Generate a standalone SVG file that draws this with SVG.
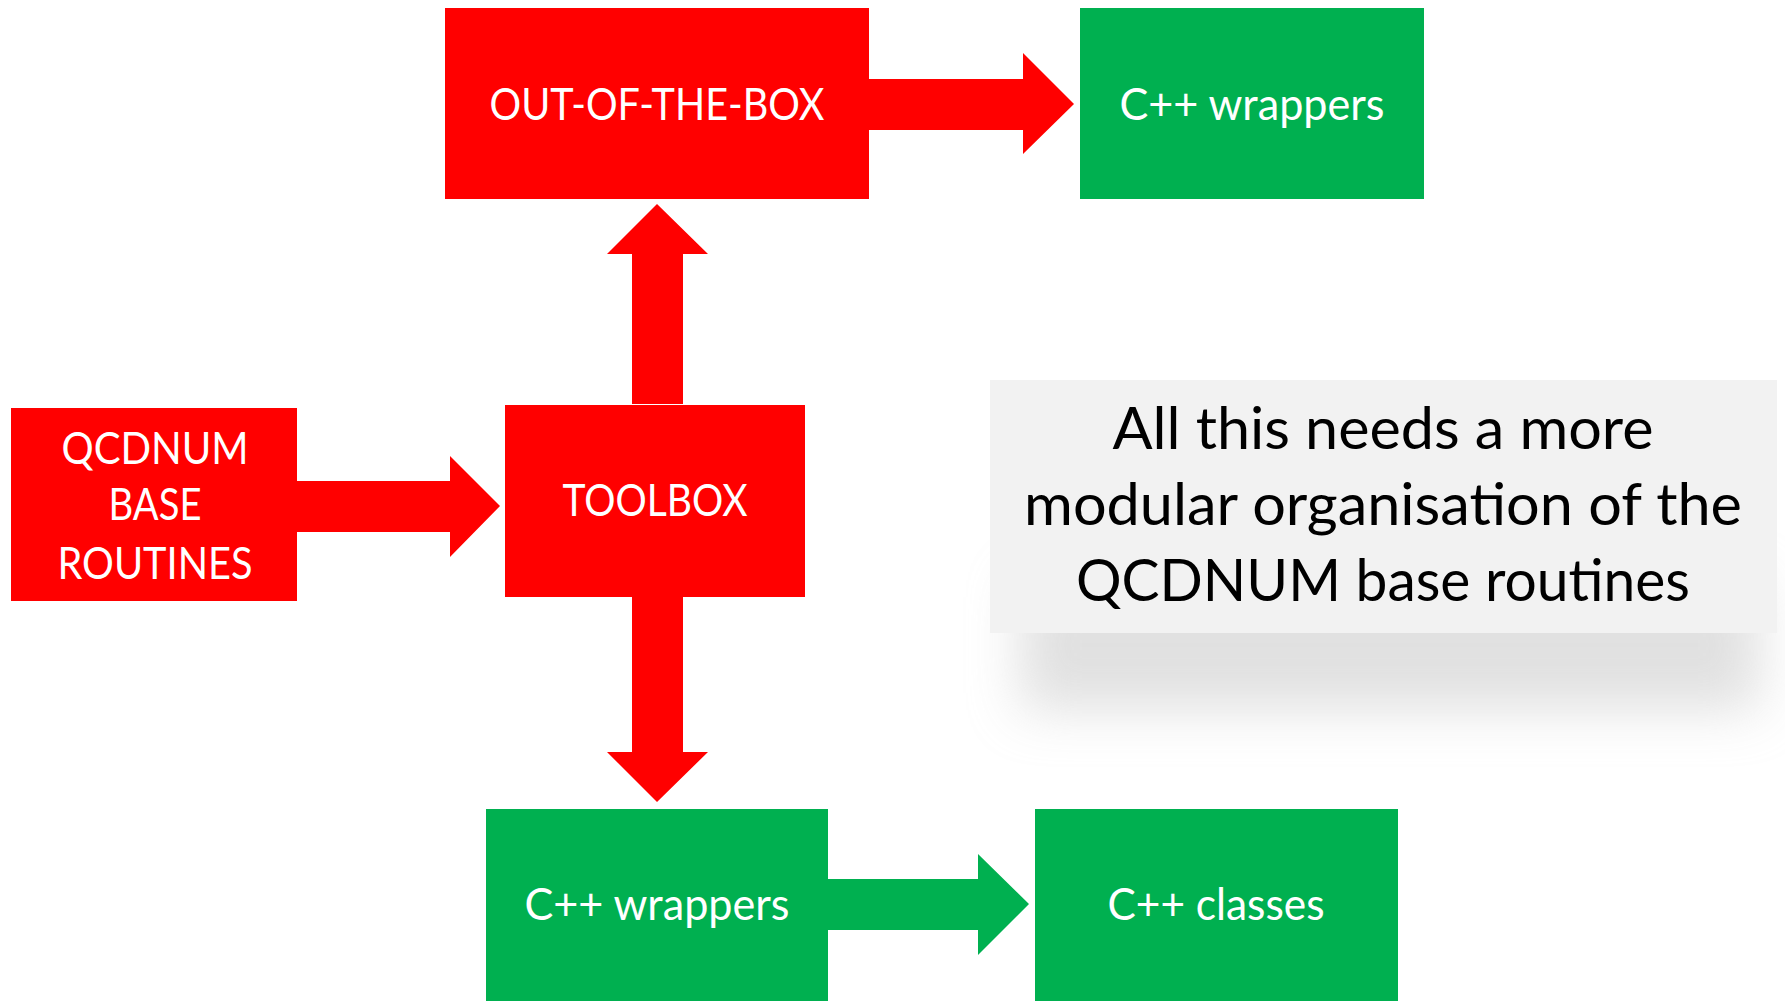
<svg xmlns="http://www.w3.org/2000/svg" width="1785" height="1001" viewBox="0 0 1785 1001">
<style>
.red{fill:#FF0000}
.green{fill:#00B050}
.lbl{font-family:Lato,"Open Sans","Liberation Sans",sans-serif;font-size:44px;fill:#FFFFFF;text-anchor:middle}
.note{font-family:Lato,"Open Sans","Liberation Sans",sans-serif;font-size:58px;fill:#000000;text-anchor:middle}
</style>
<defs>
<filter id="blur" x="-20%" y="-50%" width="140%" height="200%">
<feGaussianBlur stdDeviation="26"/>
</filter>
</defs>
<rect width="1785" height="1001" fill="#FFFFFF"/>

<g id="connectors">
<polygon class="red" points="869,79 1023,79 1023,53 1074,104 1023,154 1023,130 869,130"/>
<polygon class="red" points="632,404 632,254 607,254 657,204 708,254 683,254 683,404"/>
<polygon class="red" points="632,597 632,752 607,752 657,802 708,752 683,752 683,597"/>
<polygon class="red" points="297,481 450,481 450,456 500,506 450,557 450,532 297,532"/>
<polygon class="green" points="828,879 978,879 978,854 1029,904 978,955 978,930 828,930"/>
</g>

<g id="node-outofthebox">
<rect class="red" x="445" y="8" width="424" height="191"/>
<text class="lbl" x="657" y="120" textLength="335" lengthAdjust="spacingAndGlyphs">OUT-OF-THE-BOX</text>
</g>

<g id="node-cpp-wrappers-top">
<rect class="green" x="1080" y="8" width="344" height="191"/>
<text class="lbl" x="1252" y="120" textLength="265" lengthAdjust="spacingAndGlyphs">C++ wrappers</text>
</g>

<g id="node-qcdnum">
<rect class="red" x="11" y="408" width="286" height="193"/>
<text class="lbl" x="155" y="464" textLength="187" lengthAdjust="spacingAndGlyphs">QCDNUM</text>
<text class="lbl" x="155" y="520" textLength="93" lengthAdjust="spacingAndGlyphs">BASE</text>
<text class="lbl" x="155" y="579" textLength="195" lengthAdjust="spacingAndGlyphs">ROUTINES</text>
</g>

<g id="node-toolbox">
<rect class="red" x="505" y="405" width="300" height="192"/>
<text class="lbl" x="655" y="516" textLength="185" lengthAdjust="spacingAndGlyphs">TOOLBOX</text>
</g>

<g id="node-cpp-wrappers-bottom">
<rect class="green" x="486" y="809" width="342" height="192"/>
<text class="lbl" x="657" y="920" textLength="265" lengthAdjust="spacingAndGlyphs">C++ wrappers</text>
</g>

<g id="node-cpp-classes">
<rect class="green" x="1035" y="809" width="363" height="192"/>
<text class="lbl" x="1216" y="920" textLength="217" lengthAdjust="spacingAndGlyphs">C++ classes</text>
</g>

<g id="node-note">
<rect x="1020" y="580" width="740" height="130" fill="#C8C8C8" opacity="0.55" filter="url(#blur)"/>
<rect x="990" y="380" width="787" height="253" fill="#F2F2F2"/>
<text class="note" x="1383" y="449" textLength="541" lengthAdjust="spacingAndGlyphs">All this needs a more</text>
<text class="note" x="1383" y="525" textLength="718" lengthAdjust="spacingAndGlyphs">modular organisation of the</text>
<text class="note" x="1383" y="601" textLength="614" lengthAdjust="spacingAndGlyphs">QCDNUM base routines</text>
</g>
</svg>
